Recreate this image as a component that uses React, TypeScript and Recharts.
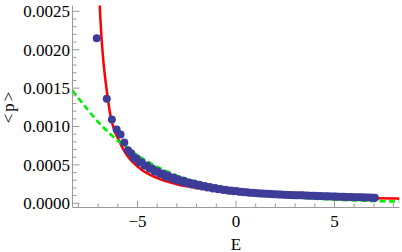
import React from 'react';
import { ComposedChart, Line, Scatter, XAxis, YAxis } from 'recharts';

// ---- axis ticks ----
const xTicks = [-8, -7, -6, -5, -4, -3, -2, -1, 0, 1, 2, 3, 4, 5, 6, 7, 8];
const xMajor = [-5, 0, 5];
const xTickLabels = ['\u22125', '0', '5'];
const yTicks = [
  0, 0.0001, 0.0002, 0.0003, 0.0004, 0.0005, 0.0006, 0.0007, 0.0008, 0.0009,
  0.001, 0.0011, 0.0012, 0.0013, 0.0014, 0.0015, 0.0016, 0.0017, 0.0018, 0.0019,
  0.002, 0.0021, 0.0022, 0.0023, 0.0024, 0.0025,
];
const yMajor = [0, 0.0005, 0.001, 0.0015, 0.002, 0.0025];
const yTickLabels = ['0.0000', '0.0005', '0.0010', '0.0015', '0.0020', '0.0025'];

// ---- data: blue points ----
const dotE = [
  -7.07, -6.56, -6.3, -6.06, -5.86, -5.67, -5.48, -5.32, -5.18, -5.05, -4.92, -4.78, -4.65,
  -4.52, -4.38, -4.25, -4.12, -3.98, -3.85, -3.72, -3.58, -3.45, -3.32, -3.18, -3.05, -2.92,
  -2.78, -2.65, -2.52, -2.38, -2.25, -2.12, -1.98, -1.85, -1.72, -1.58, -1.45, -1.32, -1.18,
  -1.05, -0.92, -0.78, -0.65, -0.52, -0.38, -0.25, -0.12, 0.02, 0.15, 0.28, 0.42, 0.55, 0.68,
  0.82, 0.95, 1.08, 1.22, 1.35, 1.48, 1.62, 1.75, 1.88, 2.02, 2.15, 2.28, 2.42, 2.55, 2.68,
  2.82, 2.95, 3.08, 3.22, 3.35, 3.48, 3.62, 3.75, 3.88, 4.02, 4.15, 4.28, 4.42, 4.55, 4.68,
  4.82, 4.95, 5.08, 5.22, 5.35, 5.48, 5.62, 5.75, 5.88, 6.02, 6.15, 6.28, 6.42, 6.55, 6.68,
  6.82, 6.95, 7.05,
];
const dotP = [
  2150, 1360, 1090, 960, 895, 790, 690, 650, 590, 585, 535, 535, 488,
  492, 450, 452, 412, 418, 380, 388, 350, 362, 326, 336, 302, 314,
  282, 292, 263, 272, 247, 256, 232, 240, 219, 226, 205, 212, 194,
  199, 183, 187, 173, 177, 164, 167, 156, 159, 150, 150, 144, 144, 138,
  138, 133, 132, 128, 127, 124, 123, 120, 119, 117, 115, 114, 112, 111, 109,
  108, 106, 105, 104, 103, 101, 100, 99, 98, 97, 95, 94, 93, 92, 90,
  89, 88, 87, 86, 85, 84, 83, 82, 81, 80, 79, 78, 77, 76, 75,
  74, 73, 72,
].map((v) => v * 1e-6);

// ---- data: red fit curve ----
const fitE = [
  -7.02, -6.93, -6.85, -6.75, -6.65, -6.52, -6.4, -6.26, -6.1, -5.95, -5.8, -5.6, -5.4, -5.2,
  -5.0, -4.8, -4.5, -4.2, -3.8, -3.4, -3.0, -2.5, -2.0, -1.5, -1.0, -0.5, 0, 1, 2, 3, 4, 5, 6,
  7, 8.3,
];
const fitP = [
  3300, 2650, 2250, 1900, 1650, 1390, 1180, 1020, 905, 820, 740, 650, 580, 525,
  478, 438, 390, 350, 308, 275, 248, 220, 198, 180, 164, 150, 139, 122, 109, 99, 90, 80, 73,
  67, 60,
].map((v) => v * 1e-6);

// ---- data: green dashed curve ----
const expE = [
  -8.3, -8, -7.5, -7, -6.5, -6, -5.5, -5, -4.5, -4, -3.5, -3, -2.5, -2, -1.5, -1, -0.5, 0, 0.5,
  1, 1.5, 2, 3, 4, 5, 6, 7, 8.3,
];
const expP = [
  1470, 1370, 1210, 1060, 930, 815, 715, 625, 545, 475, 415, 360, 315, 275, 240, 210, 183, 165,
  145, 128, 112, 99, 77, 60, 48, 38, 30, 21,
].map((v) => v * 1e-6);

const dots = dotE.map((E, i) => ({ E, p: dotP[i] }));
const fit = fitE.map((E, i) => ({ E, p: fitP[i] }));
const expo = expE.map((E, i) => ({ E, p: expP[i] }));

const FRAME = '#9a9a9a';
const FONT = "'Liberation Serif', 'Times New Roman', serif";
const FS = 17;
const MAJ = 7;
const MIN = 4;
const txt = { fontFamily: FONT, fontSize: FS };

const isMajor = (arr: number[], v: number) => arr.findIndex((m) => Math.abs(m - v) < 1e-9);

const BottomTick = (props: any) => {
  const { x, y, payload } = props;
  const mi = isMajor(xMajor, payload.value);
  return (
    <g>
      <line x1={x} x2={x} y1={y} y2={y - (mi >= 0 ? MAJ : MIN)} stroke={FRAME} />
      {mi >= 0 && (
        <text x={x} y={y + 19.5} textAnchor="middle" style={txt} fill="#000">
          {xTickLabels[mi]}
        </text>
      )}
    </g>
  );
};

const TopTick = (props: any) => {
  const { x, y, payload } = props;
  const mi = isMajor(xMajor, payload.value);
  return <line x1={x} x2={x} y1={y} y2={y + (mi >= 0 ? MAJ : MIN)} stroke={FRAME} />;
};

const LeftTick = (props: any) => {
  const { x, y, payload } = props;
  const mi = isMajor(yMajor, payload.value);
  return (
    <g>
      <line x1={x} x2={x + (mi >= 0 ? MAJ : MIN)} y1={y} y2={y} stroke={FRAME} />
      {mi >= 0 && (
        <text x={x - 2.5} y={y} dy="0.34em" textAnchor="end" style={txt} fill="#000">
          {yTickLabels[mi]}
        </text>
      )}
    </g>
  );
};

const RightTick = (props: any) => {
  const { x, y, payload } = props;
  const mi = isMajor(yMajor, payload.value);
  return <line x1={x} x2={x - (mi >= 0 ? MAJ : MIN)} y1={y} y2={y} stroke={FRAME} />;
};

const Dot = (props: any) => <circle cx={props.cx} cy={props.cy} r={4} fill="#3d3d99" />;

const X_DOMAIN: [number, number] = [-8.3, 8.3];
const Y_DOMAIN: [number, number] = [-0.000055, 0.002576];

export default function App() {
  return (
    <div style={{ position: 'absolute', left: 0, top: 0, width: 402, height: 252, background: '#fff' }}>
      <ComposedChart width={402} height={252} margin={{ top: 5.5, right: 2.5, bottom: 0, left: 0 }}>
        <XAxis
          xAxisId="b"
          dataKey="E"
          type="number"
          domain={X_DOMAIN}
          allowDataOverflow
          ticks={xTicks}
          interval={0}
          tickSize={0}
          tickMargin={0}
          tickLine={false}
          tick={BottomTick}
          stroke={FRAME}
          height={44.5}
          label={{
            content: (p: any) => {
              const vb = p.viewBox;
              return (
                <text x={vb.x + vb.width / 2} y={vb.y + 42} textAnchor="middle" style={txt} fill="#000">
                  E
                </text>
              );
            },
          }}
        />
        <XAxis
          xAxisId="t"
          orientation="top"
          dataKey="E"
          type="number"
          domain={X_DOMAIN}
          allowDataOverflow
          ticks={xTicks}
          interval={0}
          tickSize={0}
          tickMargin={0}
          tickLine={false}
          tick={TopTick}
          stroke={FRAME}
          height={0}
        />
        <YAxis
          yAxisId="l"
          dataKey="p"
          type="number"
          domain={Y_DOMAIN}
          allowDataOverflow
          ticks={yTicks}
          interval={0}
          tickSize={0}
          tickMargin={0}
          tickLine={false}
          tick={LeftTick}
          stroke={FRAME}
          width={72.5}
          label={{
            content: (p: any) => {
              const vb = p.viewBox;
              const cx = 14;
              const cy = vb.y + vb.height / 2;
              return (
                <text
                  x={cx}
                  y={cy}
                  transform={`rotate(-90 ${cx} ${cy})`}
                  textAnchor="middle"
                  style={{ ...txt, letterSpacing: 2 }}
                  fill="#000"
                >
                  {'<p>'}
                </text>
              );
            },
          }}
        />
        <YAxis
          yAxisId="r"
          orientation="right"
          dataKey="p"
          type="number"
          domain={Y_DOMAIN}
          allowDataOverflow
          ticks={yTicks}
          interval={0}
          tickSize={0}
          tickMargin={0}
          tickLine={false}
          tick={RightTick}
          stroke={FRAME}
          width={0}
        />
        <Scatter
          xAxisId="b"
          yAxisId="l"
          data={dots}
          dataKey="p"
          shape={Dot}
          isAnimationActive={false}
        />
        <Line
          xAxisId="b"
          yAxisId="l"
          data={fit}
          dataKey="p"
          type="monotone"
          stroke="#ff0000"
          strokeWidth={2.5}
          dot={false}
          activeDot={false}
          isAnimationActive={false}
        />
        <Line
          xAxisId="b"
          yAxisId="l"
          data={expo}
          dataKey="p"
          type="monotone"
          stroke="#00ee00"
          strokeWidth={2.6}
          strokeDasharray="6 3.5"
          dot={false}
          activeDot={false}
          isAnimationActive={false}
        />
      </ComposedChart>
    </div>
  );
}
